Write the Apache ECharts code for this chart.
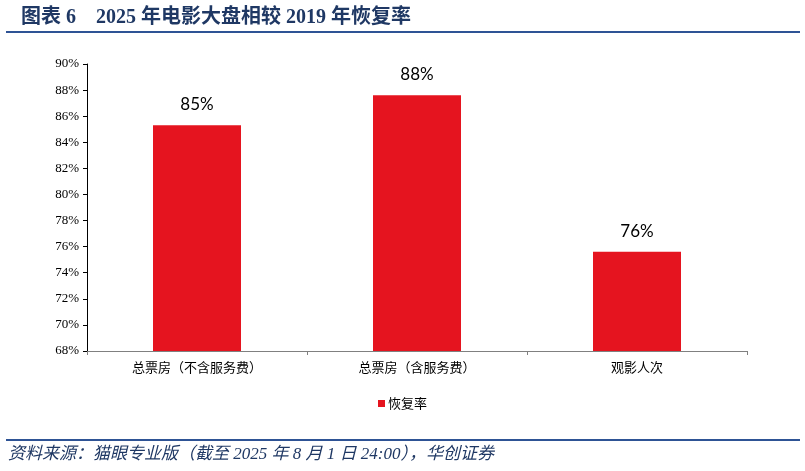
<!DOCTYPE html>
<html>
<head>
<meta charset="utf-8">
<script src="https://cdn.jsdelivr.net/npm/echarts@6/dist/echarts.min.js"></script>
<style>html,body{margin:0;padding:0;background:#fff;}#c{width:805px;height:471px;}</style>
</head>
<body>
<div id="c"></div>
<script>
const categories = ['总票房（不含服务费）', '总票房（含服务费）', '观影人次'];
const recoveryRate = [85.3, 87.6, 75.6];
const barLabels = ['85%', '88%', '76%'];
const seriesName = '恢复率';
const titleText = '图表 6    2025 年电影大盘相较 2019 年恢复率';
const sourceText = '资料来源：猫眼专业版（截至 2025 年 8 月 1 日 24:00），华创证券';

const chart = echarts.init(document.getElementById('c'));
chart.setOption({
  backgroundColor: '#fff',
  animation: false,
  title: {
    text: titleText,
    left: 16, top: 3,
    textStyle: { fontFamily: '"Liberation Serif", "Noto Sans CJK SC"', fontWeight: 'bold', fontSize: 20, color: '#1F3864' }
  },
  graphic: [
    { type: 'rect', shape: { x: 6, y: 31, width: 794, height: 2 }, style: { fill: '#2E5395' } },
    { type: 'rect', shape: { x: 6, y: 439, width: 794, height: 2 }, style: { fill: '#2E5395' } },
    { type: 'text', left: 8, top: 446, style: { text: sourceText, fill: '#1F3864', font: 'italic 17px "Liberation Serif", "Noto Sans CJK SC"' } }
  ],
  legend: {
    data: [seriesName], bottom: 56, left: 'center',
    icon: 'rect', itemWidth: 7, itemHeight: 7, itemGap: 4,
    textStyle: { fontFamily: '"Noto Sans CJK SC"', fontSize: 13, color: '#000', padding: [0, 0, 0, -2] }
  },
  grid: { left: 87, right: 58, top: 64, bottom: 120 },
  xAxis: {
    type: 'category', data: categories,
    axisLine: { lineStyle: { color: '#808080', width: 1 } },
    axisTick: { show: true, length: 4, lineStyle: { color: '#808080' } },
    axisLabel: { color: '#000', fontSize: 13, fontFamily: '"Noto Sans CJK SC"', margin: 10 }
  },
  yAxis: {
    type: 'value', min: 68, max: 90, interval: 2,
    splitLine: { show: false },
    axisLine: { show: true, lineStyle: { color: '#000', width: 1 } },
    axisTick: { show: true, length: 4, lineStyle: { color: '#000' } },
    axisLabel: { formatter: '{value}%', color: '#000', fontSize: 13, fontFamily: '"Liberation Serif"', margin: 8 }
  },
  series: [{
    name: seriesName, type: 'bar', data: recoveryRate, barWidth: '40%',
    itemStyle: { color: '#E5141F' },
    label: {
      show: true, position: 'top', distance: 12,
      formatter: p => barLabels[p.dataIndex],
      fontSize: 17, color: '#000', fontFamily: 'Lato, "Noto Sans"'
    }
  }]
});
</script>
</body>
</html>
